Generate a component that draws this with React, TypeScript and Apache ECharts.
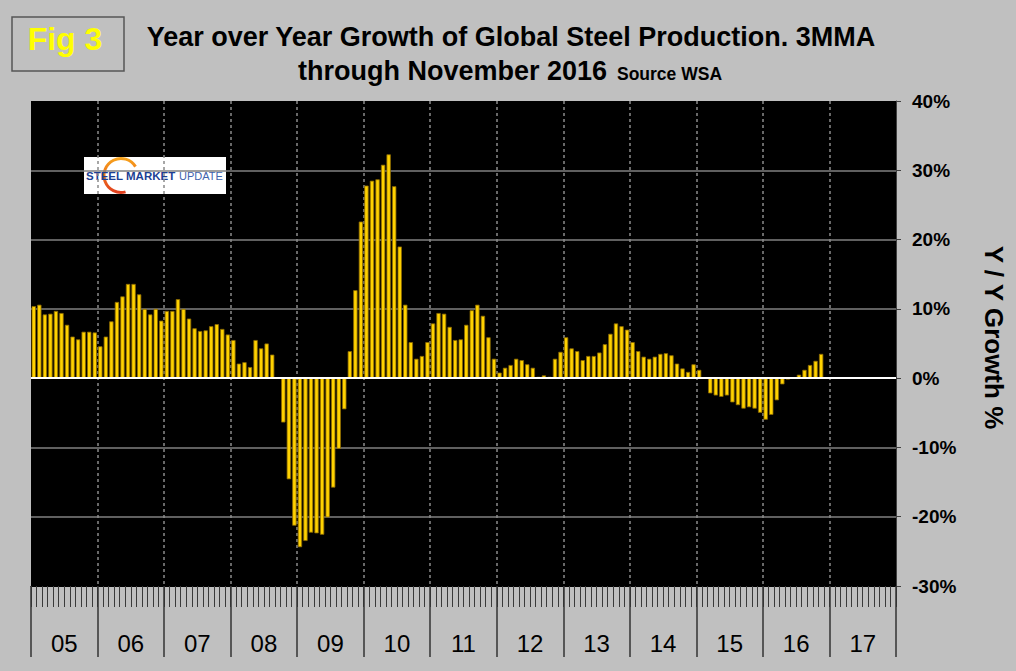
import React, { useEffect, useRef } from 'react';
import * as echarts from 'echarts';

const FONT = '"Liberation Sans", Arial, Helvetica, sans-serif';

const yearLabels = ['05', '06', '07', '08', '09', '10', '11', '12', '13', '14', '15', '16', '17'];
const monthNames = ['Jan', 'Feb', 'Mar', 'Apr', 'May', 'Jun', 'Jul', 'Aug', 'Sep', 'Oct', 'Nov', 'Dec'];

// 3MMA year-over-year growth of global steel production, %
const g2005 = [10.4, 10.6, 9.2, 9.3, 9.7, 9.4, 7.7, 6.0, 5.6, 6.7, 6.7, 6.6];
const g2006 = [4.6, 6.0, 8.2, 11.0, 11.8, 13.6, 13.6, 12.1, 10.0, 9.2, 10.0, 8.3];
const g2007 = [9.7, 9.7, 11.4, 10.0, 8.6, 7.2, 6.8, 6.9, 7.5, 7.8, 7.1, 6.3];
const g2008 = [5.5, 2.1, 2.3, 1.6, 5.5, 4.3, 5.0, 3.4, 0, -6.4, -14.6, -21.3];
const g2009 = [-24.4, -23.5, -22.3, -22.4, -22.6, -20.1, -15.8, -10.2, -4.5, 3.9, 12.7, 22.6];
const g2010 = [27.8, 28.5, 28.7, 30.8, 32.3, 27.7, 19.0, 10.6, 5.2, 2.8, 3.2, 5.2];
const g2011 = [7.9, 9.4, 9.3, 7.4, 5.5, 5.6, 7.7, 9.8, 10.6, 9.0, 5.9, 2.8];
const g2012 = [0.8, 1.5, 1.9, 2.8, 2.6, 2.0, 1.5, 0.2, 0.4, 0.2, 2.8, 3.8];
const g2013 = [5.9, 4.3, 3.9, 2.6, 3.2, 3.2, 3.7, 4.9, 6.4, 7.9, 7.5, 7.0];
const g2014 = [5.2, 3.9, 3.1, 2.8, 3.1, 3.5, 3.6, 3.3, 2.1, 1.4, 0.9, 2.0];
const g2015 = [1.2, 0, -2.2, -2.5, -2.7, -2.5, -3.5, -3.9, -4.4, -4.2, -4.4, -5.0];
const g2016 = [-6.0, -5.3, -3.2, -0.9, -0.2, 0.1, 0.5, 1.2, 1.9, 2.5, 3.5];

const growth = [
  ...g2005, ...g2006, ...g2007, ...g2008, ...g2009, ...g2010,
  ...g2011, ...g2012, ...g2013, ...g2014, ...g2015, ...g2016,
];

const monthCategories = yearLabels.flatMap((y) => monthNames.map((m) => `${m} ${y}`));

export default function App() {
  const ref = useRef<HTMLDivElement>(null);

  useEffect(() => {
    if (!ref.current) return;
    const chart = echarts.init(ref.current, null, { renderer: 'svg' });

    chart.setOption({
      animation: false,
      backgroundColor: '#C0C0C0',
      grid: {
        left: 31,
        right: 120,
        top: 101,
        bottom: 85,
        show: true,
        backgroundColor: '#000000',
        borderWidth: 0,
      },
      xAxis: [
        {
          type: 'category',
          data: monthCategories,
          position: 'bottom',
          boundaryGap: true,
          axisLine: { show: true, onZero: false, lineStyle: { color: '#000' } },
          axisTick: { show: true, interval: 0, length: 21, lineStyle: { color: '#3a3a3a', width: 1 } },
          axisLabel: { show: false },
          splitLine: { show: false },
        },
        {
          type: 'category',
          data: yearLabels,
          position: 'bottom',
          boundaryGap: true,
          axisLine: { show: false, onZero: false },
          axisTick: { show: true, interval: 0, length: 71, lineStyle: { color: '#333', width: 1.5 } },
          axisLabel: {
            show: true,
            interval: 0,
            margin: 45,
            fontSize: 24,
            color: '#000',
            fontFamily: FONT,
          },
          splitLine: {
            show: true,
            interval: 0,
            showMinLine: false,
            showMaxLine: false,
            lineStyle: { color: '#8a8a8a', type: [3, 3], width: 1.5 },
          },
        },
      ],
      yAxis: {
        type: 'value',
        position: 'right',
        min: -30,
        max: 40,
        interval: 10,
        axisLabel: {
          formatter: '{value}%',
          fontSize: 19,
          fontWeight: 'bold',
          color: '#000',
          margin: 16,
          fontFamily: FONT,
        },
        axisTick: { show: true, length: 5, lineStyle: { color: '#404040' } },
        axisLine: { show: true, lineStyle: { color: '#404040' } },
        splitLine: {
          show: true,
          showMinLine: false,
          showMaxLine: false,
          lineStyle: { color: '#808080', width: 1.5 },
        },
        name: 'Y / Y Growth %',
        nameLocation: 'middle',
        nameRotate: -90,
        nameGap: 85,
        nameTextStyle: {
          fontSize: 26,
          fontWeight: 'bold',
          color: '#000',
          fontFamily: FONT,
          padding: [0, 12, 0, 0],
        },
      },
      series: [
        {
          type: 'bar',
          xAxisIndex: 0,
          yAxisIndex: 0,
          data: growth,
          barCategoryGap: '22%',
          itemStyle: { color: '#FFD200', borderColor: '#8C6A00', borderWidth: 0.8 },
          markLine: {
            silent: true,
            symbol: ['none', 'none'],
            label: { show: false },
            lineStyle: { color: '#ffffff', width: 2.2, type: 'solid' },
            data: [{ yAxis: 0 }],
          },
        },
      ],
      graphic: [
        {
          type: 'rect',
          shape: { x: 12, y: 17, width: 112, height: 54 },
          style: { fill: '#C0C0C0', stroke: '#555555', lineWidth: 1.5 },
        },
        {
          type: 'text',
          x: 65,
          y: 39,
          style: {
            text: 'Fig 3',
            fill: '#FFFF00',
            font: `bold 32px ${FONT}`,
            align: 'center',
            verticalAlign: 'middle',
          },
        },
        {
          type: 'text',
          x: 511,
          y: 37.3,
          style: {
            text: 'Year over Year Growth of Global Steel Production. 3MMA',
            fill: '#000',
            font: `bold 27px ${FONT}`,
            align: 'center',
            verticalAlign: 'middle',
          },
        },
        {
          type: 'text',
          x: 298,
          y: 70.6,
          style: {
            text: 'through November 2016',
            fill: '#000',
            font: `bold 27px ${FONT}`,
            align: 'left',
            verticalAlign: 'middle',
          },
        },
        {
          type: 'text',
          x: 617,
          y: 74,
          style: {
            text: 'Source WSA',
            fill: '#000',
            font: `bold 17.5px ${FONT}`,
            align: 'left',
            verticalAlign: 'middle',
          },
        },
        {
          type: 'rect',
          shape: { x: 84, y: 157, width: 142, height: 37 },
          style: { fill: '#ffffff' },
        },
        {
          type: 'arc',
          shape: { cx: 121, cy: 175.5, r: 17, startAngle: -0.55, endAngle: 1.3, clockwise: false },
          style: {
            fill: 'none',
            lineWidth: 3,
            stroke: new echarts.graphic.LinearGradient(0, 0, 0, 1, [
              { offset: 0, color: '#F7A21B' },
              { offset: 1, color: '#E2401E' },
            ]),
          },
        },
        {
          type: 'text',
          x: 86,
          y: 176,
          style: {
            text: 'STEEL',
            fill: '#1C3F94',
            font: `bold 11.5px ${FONT}`,
            align: 'left',
            verticalAlign: 'middle',
          },
        },
        {
          type: 'text',
          x: 126,
          y: 176,
          style: {
            text: 'MARKET',
            fill: '#1C3F94',
            font: `bold 11.5px ${FONT}`,
            align: 'left',
            verticalAlign: 'middle',
          },
        },
        {
          type: 'text',
          x: 179,
          y: 176,
          style: {
            text: 'UPDATE',
            fill: '#3F63AE',
            font: `11px ${FONT}`,
            align: 'left',
            verticalAlign: 'middle',
          },
        },
      ],
    });

    return () => {
      chart.dispose();
    };
  }, []);

  return (
    <div
      ref={ref}
      style={{ position: 'absolute', left: 0, top: 0, width: 1016, height: 671, background: '#C0C0C0' }}
    />
  );
}
